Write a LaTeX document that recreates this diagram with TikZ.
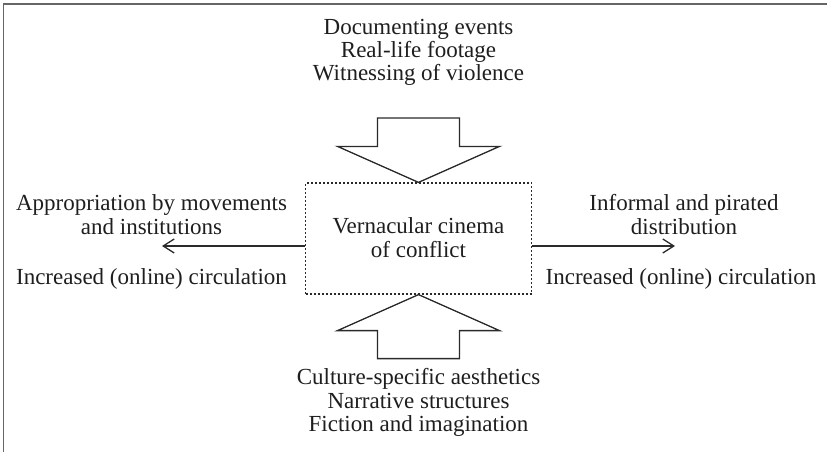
\documentclass[tikz,border=0pt]{standalone}
\usepackage{fontspec}
\setmainfont{Liberation Serif}
\usetikzlibrary{arrows.meta,calc}
\definecolor{ink}{HTML}{1E1E1E}
\definecolor{linec}{HTML}{2A2A2A}
\begin{document}
\begin{tikzpicture}[x=1pt,y=-1pt,
  txt/.style={text=ink,font=\fontsize{23}{23.5}\selectfont,align=center,inner sep=0pt,anchor=base},
  centrebox/.style={draw=linec,line width=1.2pt,dash pattern=on 2pt off 2pt,minimum width=226pt,minimum height=111pt,inner sep=0pt},
  blockarrow/.style={draw=linec,line width=1.3pt,line join=miter},
  flowarrow/.style={draw=linec,line width=1.3pt,-{Straight Barb[length=11pt,width=14pt,line width=1.3pt]}},
  frameline/.style={draw=gray!80!black,line width=1.5pt}]
\useasboundingbox (0,0) rectangle (827,452);
\draw[frameline] (3.5,452) -- (3.5,4) -- (827,4);
\node[centrebox] (box) at (418.5,238.5) {};
\node[txt] (boxtext) at (418.5,257) {Vernacular cinema\\of conflict};
\node[txt] (toptext) at (418.5,81) {Documenting events\\Real-life footage\\Witnessing of violence};
\node[txt] (bottomtext) at (418.5,431.5) {Culture-specific aesthetics\\Narrative structures\\Fiction and imagination};
\node[txt] (lefttext) at (151.5,234) {Appropriation by movements\\and institutions};
\node[txt] (leftcirc) at (151.5,284) {Increased (online) circulation};
\node[txt] (righttext) at (684,234) {Informal and pirated\\distribution};
\node[txt] (rightcirc) at (681,284) {Increased (online) circulation};
\coordinate (lefttip) at (162,246);
\coordinate (righttip) at (675,246);
\draw[flowarrow] (box.west |- lefttip) -- (lefttip);
\draw[flowarrow] (box.east |- righttip) -- (righttip);
\draw[blockarrow] (box.north) -- ++(-81,-36) -- ++(40,0) -- ++(0,-28.5) -- ++(82,0) -- ++(0,28.5) -- ++(40,0) -- cycle;
\draw[blockarrow] (box.south) -- ++(-81,36) -- ++(40,0) -- ++(0,28) -- ++(82,0) -- ++(0,-28) -- ++(40,0) -- cycle;
\end{tikzpicture}
\end{document}
